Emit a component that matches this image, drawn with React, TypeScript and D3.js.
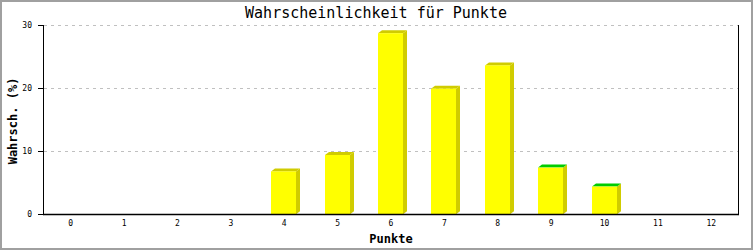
import React from "react";
import * as d3 from "d3";

const categories = ["0", "1", "2", "3", "4", "5", "6", "7", "8", "9", "10", "11", "12"];
const values = [0, 0, 0, 0, 6.8, 9.4, 28.7, 19.9, 23.6, 7.4, 4.4, 0, 0];
const greenCap = [false, false, false, false, false, false, false, false, false, true, true, false, false];
const yTicks = [0, 10, 20, 30];
const title = "Wahrscheinlichkeit für Punkte";
const xLabel = "Punkte";
const yLabel = "Wahrsch. (%)";

export default function App() {
  const W = 753, H = 250;
  const left = 44, right = 738, top = 25, bottom = 214.3;
  const x = d3.scaleBand<string>().domain(categories).range([left, right]);
  const y = d3.scaleLinear().domain([0, 30]).range([bottom, top]);
  const dx = 4, dy = 3;
  const font = "'DejaVu Sans Mono', 'Liberation Mono', monospace";
  return (
    <svg width={W} height={H} style={{ position: "fixed", left: 0, top: 0, background: "#fff" }}>
      <rect x={1} y={1} width={W - 2} height={H - 2} fill="#fff" stroke="#a0a0a0" strokeWidth={2} />
      <text x={376} y={18} textAnchor="middle" fontFamily={font} fontSize={15} fill="#000">{title}</text>
      {yTicks.map((t) => (
        <g key={t}>
          {t > 0 && (
            <line x1={left} x2={right} y1={Math.round(y(t)) + 0.5} y2={Math.round(y(t)) + 0.5}
              stroke="#c0c0c0" strokeDasharray="3,4" />
          )}
          <line x1={38} x2={left} y1={Math.round(y(t)) + 0.5} y2={Math.round(y(t)) + 0.5} stroke="#000" />
          <text x={32} y={y(t) + 3} textAnchor="end" fontFamily={font} fontSize={8} fill="#000">{t}</text>
        </g>
      ))}
      {categories.map((c, i) => {
        const v = values[i];
        if (v <= 0) return null;
        const cx = x(c)! + x.bandwidth() / 2;
        const x0 = Math.round(cx - 13), x1 = x0 + 25;
        const yt = y(v);
        const topFace = `M${x0},${yt} L${x0 + dx},${yt - dy} L${x1 + dx},${yt - dy} L${x1},${yt} Z`;
        const sideFace = `M${x1},${yt} L${x1 + dx},${yt - dy} L${x1 + dx},${bottom - dy} L${x1},${bottom} Z`;
        return (
          <g key={c}>
            <path d={sideFace} fill="#d0cc00" />
            <path d={topFace} fill={greenCap[i] ? "#00cc00" : "#d0cc00"} />
            <rect x={x0} y={yt} width={x1 - x0} height={bottom - yt} fill="#ffff00" />
          </g>
        );
      })}
      <line x1={43.5} x2={43.5} y1={top} y2={bottom + 1} stroke="#000" />
      <line x1={right + 0.5} x2={right + 0.5} y1={top} y2={bottom + 1} stroke="#000" />
      <line x1={left} x2={right} y1={Math.round(bottom) + 0.5} y2={Math.round(bottom) + 0.5} stroke="#000" strokeWidth={1.5} />
      {categories.map((c) => (
        <text key={c} x={x(c)! + x.bandwidth() / 2} y={226} textAnchor="middle" fontFamily={font} fontSize={8} fill="#000">{c}</text>
      ))}
      <text x={391} y={243} textAnchor="middle" fontFamily={font} fontSize={12} fontWeight="bold" fill="#000">{xLabel}</text>
      <text transform={`translate(17,121) rotate(-90)`} textAnchor="middle" fontFamily={font} fontSize={12} fontWeight="bold" fill="#000">{yLabel}</text>
    </svg>
  );
}
